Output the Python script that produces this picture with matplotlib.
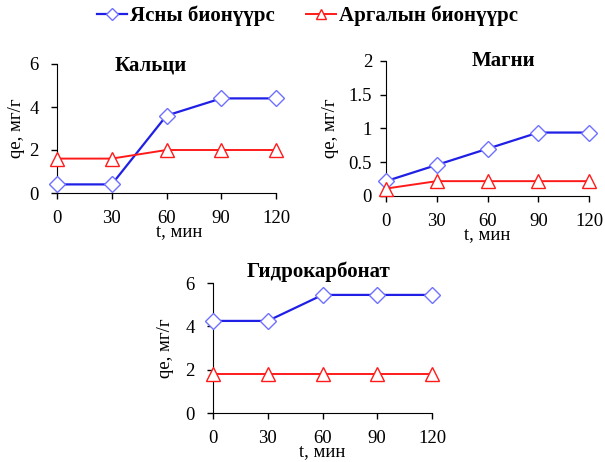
import matplotlib
matplotlib.use('Agg')
from matplotlib import pyplot as plt
from matplotlib.lines import Line2D

plt.rcParams['font.family'] = ['Liberation Serif', 'DejaVu Serif']

t = [0, 30, 60, 90, 120]

series_names = ['Ясны бионүүрс', 'Аргалын бионүүрс']

ca_yasny = [0.4, 0.4, 3.6, 4.4, 4.4]
ca_argal = [1.6, 1.6, 2.0, 2.0, 2.0]

mg_yasny = [0.22, 0.46, 0.70, 0.94, 0.94]
mg_argal = [0.11, 0.22, 0.22, 0.22, 0.22]

hco3_yasny = [4.25, 4.25, 5.45, 5.45, 5.45]
hco3_argal = [1.8, 1.8, 1.8, 1.8, 1.8]

W, H = 605, 462
fig = plt.figure(figsize=(W / 100, H / 100), dpi=100)

blue = '#1f1fe6'
blue_m = '#7070ff'
red = '#ff1a1a'


def make_ax(px_left, px_bottom, px_right, px_top, title, y1, y2, ymax, yticks, yticklabels,
            title_x, title_y, ypad, ylabpad, xlab_x):
    ax = fig.add_axes([px_left / W, (H - px_bottom) / H,
                       (px_right - px_left) / W, (px_bottom - px_top) / H])
    ax.plot(t, y1, color=blue, lw=1.6, marker='D', ms=8, mfc='white',
            mec=blue_m, mew=1, clip_on=False, zorder=3)
    ax.plot(t, y2, color=red, lw=1.4, marker='^', ms=10, mfc='white',
            mec=red, mew=1, clip_on=False, zorder=3)
    ax.set_xlim(0, 120)
    ax.set_ylim(0, ymax)
    ax.set_xticks(t)
    ax.set_yticks(yticks)
    ax.set_yticklabels(yticklabels)
    for s in ['top', 'right']:
        ax.spines[s].set_visible(False)
    ax.tick_params(direction='out', length=4, width=1, labelsize=13.5)
    ax.tick_params(axis='x', pad=8.5)
    ax.tick_params(axis='y', pad=ypad)
    ax.set_xlabel('t, мин', fontsize=13.5, labelpad=-3)
    ax.xaxis.label.set_x(xlab_x)
    ax.set_ylabel('qe, мг/г', fontsize=13.5, labelpad=ylabpad)
    ax.text(title_x, title_y, title, transform=ax.transAxes, ha='center', va='center',
            fontsize=15, fontweight='bold')
    return ax


axes = []
axes.append(make_ax(57, 193, 276, 64, 'Кальци', ca_yasny, ca_argal, 6,
                    [0, 2, 4, 6], ['0', '2', '4', '6'], 0.43, 0.99, 9, 3, 0.56))
axes.append(make_ax(386, 196, 589, 61, 'Магни', mg_yasny, mg_argal, 2,
                    [0, 0.5, 1, 1.5, 2], ['0', '0.5', '1', '1.5', '2'], 0.58, 1.0, 6, 7, 0.5))
axes.append(make_ax(213, 413, 432, 283, 'Гидрокарбонат', hco3_yasny, hco3_argal, 6,
                    [0, 2, 4, 6], ['0', '2', '4', '6'], 0.48, 1.085, 9, 8, 0.5))

handles = [
    Line2D([], [], color=blue, lw=1.6, marker='D', ms=6, mfc='white', mec=blue_m),
    Line2D([], [], color=red, lw=1.4, marker='^', ms=7, mfc='white', mec=red),
]
fig.legend(handles, series_names, loc='center', bbox_to_anchor=(0.508, 1 - 16 / H),
           ncol=2, frameon=False, prop={'size': 15, 'weight': 'bold'},
           handlelength=1.45, columnspacing=1.5, handletextpad=0.15)

fig.savefig('out.png', dpi=100)
